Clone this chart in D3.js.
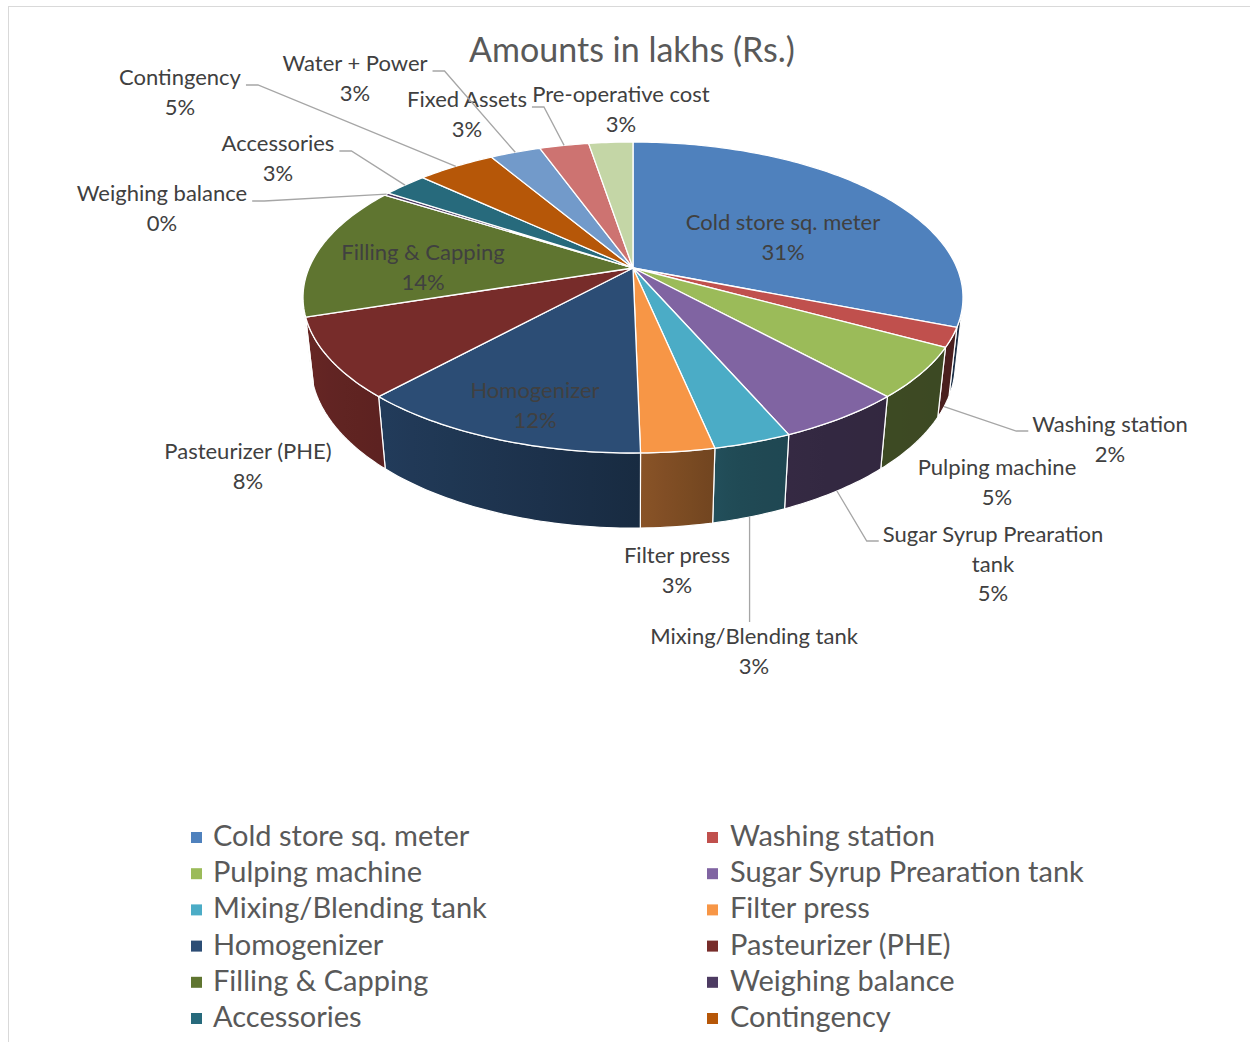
<!DOCTYPE html>
<html>
<head>
<meta charset="utf-8">
<script src="https://cdn.jsdelivr.net/npm/d3@7"></script>
<style>
  html, body { margin: 0; padding: 0; background: #ffffff; }
  svg { display: block; font-family: Lato, "Open Sans", sans-serif; }
</style>
</head>
<body>
<svg id="chart" width="1250" height="1042"></svg>
<script>
// ---------------- DATA ----------------
const title = "Amounts in lakhs (Rs.)";
const categories = [
  "Cold store sq. meter", "Washing station", "Pulping machine", "Sugar Syrup Prearation tank",
  "Mixing/Blending tank", "Filter press", "Homogenizer", "Pasteurizer (PHE)",
  "Filling & Capping", "Weighing balance", "Accessories", "Contingency",
  "Water + Power", "Fixed Assets", "Pre-operative cost"
];
const values = [31, 2, 5.2, 5.3, 3.2, 3.0, 12.1, 8.2, 14, 0.3, 2.6, 4.6, 3.0, 2.9, 2.6];
const colors = [
  "#4F81BD", "#C0504D", "#9BBB59", "#8064A2", "#4BACC6", "#F79646",
  "#2C4D75", "#772C2A", "#5F7530", "#4D3B62", "#276A7C", "#B65708",
  "#729ACA", "#CD7371", "#C4D6A6"
];
const legendCount = 12;   // legend lists the first 12 categories

// ---------------- LAYOUT ----------------
// label text positions: x = centre, y = first baseline; side = where the leader attaches
const labelLayout = {
  "Cold store sq. meter":        {x: 783, y: 230, inside: true},
  "Filling & Capping":           {x: 423, y: 260, inside: true},
  "Homogenizer":                 {x: 535, y: 398, inside: true},
  "Washing station":             {x: 1110, y: 432, side: "left"},
  "Pulping machine":             {x: 997, y: 475, side: "none"},
  "Sugar Syrup Prearation tank": {x: 993, y: 542, side: "left", lines: ["Sugar Syrup Prearation", "tank"]},
  "Filter press":                {x: 677, y: 563, side: "none"},
  "Mixing/Blending tank":        {x: 754, y: 644, side: "top"},
  "Pasteurizer (PHE)":           {x: 248, y: 459, side: "none"},
  "Weighing balance":            {x: 162, y: 201, side: "right"},
  "Accessories":                 {x: 278, y: 151, side: "right"},
  "Contingency":                 {x: 180, y: 85,  side: "right"},
  "Water + Power":               {x: 355, y: 71,  side: "right"},
  "Fixed Assets":                {x: 467, y: 107, side: "right"},
  "Pre-operative cost":          {x: 621, y: 102, side: "none"}
};

const svg = d3.select("#chart");

// chart border
svg.append("rect").attr("x", 8.5).attr("y", 6.5).attr("width", 1300).attr("height", 1100)
  .attr("fill", "#fff").attr("stroke", "#D9D9D9").attr("stroke-width", 1);

// ---------------- 3D PROJECTION ----------------
const cx = 633, cy = 268;
const focal = 1514;        // focal length (px), camera distance = 1
const Rw = 0.214;          // pie radius in world units
const Hw = 0.0498;         // pie thickness in world units
const tilt = Math.asin(0.4627);
const sA = Math.sin(tilt), cA = Math.cos(tilt);

function proj(theta, r, h) {
  const x = r * Math.sin(theta);
  const d = -r * Math.cos(theta);
  const v = d * sA - h * cA;
  const w = 1 - d * cA - h * sA;
  return [cx + focal * x / w, cy + focal * v / w];
}

const total = d3.sum(values);
const pie = d3.pie().sort(null).value(d => d.value).startAngle(0).endAngle(2 * Math.PI);
const arcs = pie(categories.map((c, i) => ({name: c, value: values[i], color: colors[i]})));

const visLimit = Math.acos(-Rw / cA);
const visStart = visLimit, visEnd = 2 * Math.PI - visLimit;

function sampleAngles(a0, a1) {
  const n = Math.max(2, Math.ceil((a1 - a0) / (Math.PI / 180)) + 1);
  return d3.range(n).map(i => a0 + (a1 - a0) * i / (n - 1));
}

const shade = d3.scaleLinear()
  .domain([104, 150, 165, 175, 182, 222, 256])
  .range([0.38, 0.40, 0.43, 0.52, 0.58, 0.78, 0.88])
  .clamp(true);
function darken(c, k) {
  const r = d3.rgb(c);
  return d3.rgb(r.r * k, r.g * k, r.b * k).formatHex();
}

const defs = svg.append("defs");
const line = d3.line();
const gWalls = svg.append("g");
const gTops = svg.append("g");

arcs.forEach((a, i) => {
  const a0 = Math.max(a.startAngle, visStart), a1 = Math.min(a.endAngle, visEnd);
  if (a1 > a0) {
    const angs = sampleAngles(a0, a1);
    const top = angs.map(t => proj(t, Rw, 0));
    const bot = angs.map(t => proj(t, Rw, -Hw)).reverse();
    const x1 = proj(a0, Rw, 0)[0], x2 = proj(a1, Rw, 0)[0];
    const gid = "wg" + i;
    const grad = defs.append("linearGradient").attr("id", gid)
      .attr("gradientUnits", "userSpaceOnUse")
      .attr("x1", x1).attr("y1", 0).attr("x2", x2).attr("y2", 0);
    const steps = 6;
    d3.range(steps + 1).forEach(s => {
      const t = a0 + (a1 - a0) * s / steps;
      const px = proj(t, Rw, 0)[0];
      const off = Math.abs(x2 - x1) < 1e-6 ? s / steps : (px - x1) / (x2 - x1);
      grad.append("stop").attr("offset", Math.max(0, Math.min(1, off)))
        .attr("stop-color", darken(a.data.color, shade(t * 180 / Math.PI)));
    });
    gWalls.append("path")
      .attr("d", line(top.concat(bot)) + "Z")
      .attr("fill", `url(#${gid})`)
      .attr("stroke", "#ffffff").attr("stroke-width", 1.2).attr("stroke-linejoin", "round");
  }
  const angs = sampleAngles(a.startAngle, a.endAngle);
  const pts = [proj(0, 0, 0)].concat(angs.map(t => proj(t, Rw, 0)));
  gTops.append("path")
    .attr("d", line(pts) + "Z")
    .attr("fill", a.data.color)
    .attr("stroke", "#ffffff").attr("stroke-width", 1.3).attr("stroke-linejoin", "round");
});

// ---------------- TITLE ----------------
svg.append("text").attr("x", 632).attr("y", 62).attr("text-anchor", "middle")
  .attr("font-size", 34).attr("fill", "#595959").text(title);

// ---------------- DATA LABELS ----------------
const gLab = svg.append("g").attr("font-size", 22).attr("fill", "#404040");
const gLead = svg.append("g");
const lineH = 29.5;

arcs.forEach(a => {
  const L = labelLayout[a.data.name];
  const pct = Math.round(a.data.value / total * 100) + "%";
  const lines = (L.lines || [a.data.name]).concat([pct]);
  const t = gLab.append("text").attr("text-anchor", "middle");
  lines.forEach((s, k) => {
    t.append("tspan").attr("x", L.x).attr("y", L.y + k * lineH).text(s);
  });
  if (L.inside || L.side === "none") return;
  const w0 = t.select("tspan").node().getComputedTextLength();
  const mid = (a.startAngle + a.endAngle) / 2;
  const front = Math.cos(mid) < 0;
  const end = proj(mid, Rw, front ? -Hw : 0);
  let pts;
  if (L.side === "right") {
    const sx = L.x + w0 / 2 + 5, sy = L.y;
    pts = [[sx, sy], [sx + 12, sy], end];
  } else if (L.side === "left") {
    const sx = L.x - w0 / 2 - 4, sy = L.y - 1;
    pts = [[sx, sy], [sx - 12, sy], end];
  } else {
    pts = [[end[0], L.y - 22], end];
  }
  gLead.append("path").attr("d", line(pts)).attr("fill", "none")
    .attr("stroke", "#A6A6A6").attr("stroke-width", 1.3);
});

// ---------------- LEGEND ----------------
const gLeg = svg.append("g").attr("font-size", 29).attr("fill", "#595959");
const legX = [191, 707], legTextX = [213, 730], legY0 = 846, legDY = 36.2;
arcs.slice(0, legendCount).forEach((a, i) => {
  const col = i % 2, row = Math.floor(i / 2);
  const by = legY0 + row * legDY;
  gLeg.append("rect").attr("x", legX[col]).attr("y", by - 14).attr("width", 11).attr("height", 11)
    .attr("fill", a.data.color);
  gLeg.append("text").attr("x", legTextX[col]).attr("y", by).text(a.data.name);
});
</script>
</body>
</html>
